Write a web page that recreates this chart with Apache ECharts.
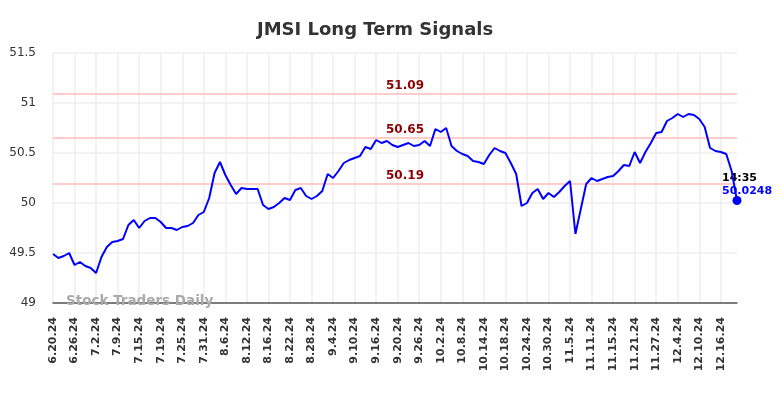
<!DOCTYPE html>
<html>
<head>
<meta charset="utf-8">
<script src="https://cdn.jsdelivr.net/npm/echarts@6/dist/echarts.min.js"></script>
<style>
html, body { margin: 0; padding: 0; background: #fff; }
#chart0 { width: 784px; height: 398px; }
</style>
</head>
<body>
<div id="chart0"></div>
<script>
'use strict';

// trading days shown on the x axis
var dates = [
	'6.20.24', '6.21.24', '6.24.24', '6.25.24', '6.26.24', '6.27.24', '6.28.24', '7.1.24',
	'7.2.24', '7.3.24', '7.5.24', '7.8.24', '7.9.24', '7.10.24', '7.11.24', '7.12.24',
	'7.15.24', '7.16.24', '7.17.24', '7.18.24', '7.19.24', '7.22.24', '7.23.24', '7.24.24',
	'7.25.24', '7.26.24', '7.29.24', '7.30.24', '7.31.24', '8.1.24', '8.2.24', '8.5.24',
	'8.6.24', '8.7.24', '8.8.24', '8.9.24', '8.12.24', '8.13.24', '8.14.24', '8.15.24',
	'8.16.24', '8.19.24', '8.20.24', '8.21.24', '8.22.24', '8.23.24', '8.26.24', '8.27.24',
	'8.28.24', '8.29.24', '8.30.24', '9.3.24', '9.4.24', '9.5.24', '9.6.24', '9.9.24',
	'9.10.24', '9.11.24', '9.12.24', '9.13.24', '9.16.24', '9.17.24', '9.18.24', '9.19.24',
	'9.20.24', '9.23.24', '9.24.24', '9.25.24', '9.26.24', '9.27.24', '9.30.24', '10.1.24',
	'10.2.24', '10.3.24', '10.4.24', '10.7.24', '10.8.24', '10.9.24', '10.10.24', '10.11.24',
	'10.14.24', '10.15.24', '10.16.24', '10.17.24', '10.18.24', '10.21.24', '10.22.24', '10.23.24',
	'10.24.24', '10.25.24', '10.28.24', '10.29.24', '10.30.24', '10.31.24', '11.1.24', '11.4.24',
	'11.5.24', '11.6.24', '11.7.24', '11.8.24', '11.11.24', '11.12.24', '11.13.24', '11.14.24',
	'11.15.24', '11.18.24', '11.19.24', '11.20.24', '11.21.24', '11.22.24', '11.25.24', '11.26.24',
	'11.27.24', '11.29.24', '12.2.24', '12.3.24', '12.4.24', '12.5.24', '12.6.24', '12.9.24',
	'12.10.24', '12.11.24', '12.12.24', '12.13.24', '12.16.24', '12.17.24', '12.18.24', '12.19.24'
];

var prices = [
	49.49, 49.45, 49.47, 49.50, 49.38, 49.41, 49.37, 49.35,
	49.30, 49.46, 49.56, 49.61, 49.62, 49.64, 49.78, 49.83,
	49.75, 49.82, 49.85, 49.85, 49.81, 49.75, 49.75, 49.73,
	49.76, 49.77, 49.80, 49.88, 49.91, 50.05, 50.30, 50.41,
	50.28, 50.18, 50.09, 50.15, 50.14, 50.14, 50.14, 49.98,
	49.94, 49.96, 50.00, 50.05, 50.03, 50.13, 50.15, 50.07,
	50.04, 50.07, 50.12, 50.29, 50.25, 50.32, 50.40, 50.43,
	50.45, 50.47, 50.56, 50.54, 50.63, 50.60, 50.62, 50.58,
	50.56, 50.58, 50.60, 50.57, 50.58, 50.62, 50.57, 50.74,
	50.71, 50.75, 50.57, 50.52, 50.49, 50.47, 50.42, 50.41,
	50.39, 50.48, 50.55, 50.52, 50.50, 50.40, 50.29, 49.97,
	50.00, 50.10, 50.14, 50.04, 50.10, 50.06, 50.11, 50.17,
	50.22, 49.69, 49.94, 50.19, 50.25, 50.22, 50.24, 50.26,
	50.27, 50.32, 50.38, 50.37, 50.51, 50.40, 50.51, 50.60,
	50.70, 50.71, 50.82, 50.85, 50.89, 50.86, 50.89, 50.88,
	50.84, 50.76, 50.55, 50.52, 50.51, 50.49, 50.32, 50.0248
];

var signal_levels = [51.09, 50.65, 50.19];
var y_ticks = [49, 49.5, 50, 50.5, 51, 51.5];
var last_time = '14:35';

var chart0 = echarts.init(document.getElementById('chart0'));

var last_i = prices.length - 1;

chart0.setOption({
	animation : false,
	textStyle : { fontFamily : 'DejaVu Sans' },
	title : {
		text : 'JMSI Long Term Signals',
		left : 252,
		top : 16,
		textStyle : { fontSize : 18, fontWeight : 'bold', color : '#333' }
	},
	graphic : [ {
		type : 'text',
		left : 66,
		top : 294,
		style : {
			text : 'Stock Traders Daily',
			fill : '#aaa',
			font : 'bold 13.5px "DejaVu Sans"'
		},
		z : 10
	} ],
	grid : {
		left : 53,
		right : 47,
		top : 53,
		bottom : 95
	},
	xAxis : {
		type : 'category',
		boundaryGap : false,
		data : dates,
		axisLine : { lineStyle : { color : '#555', width : 1.5 } },
		axisTick : { show : false },
		axisLabel : {
			interval : 3,
			rotate : 90,
			margin : 14,
			fontSize : 11,
			fontWeight : 'bold',
			color : '#333'
		},
		splitLine : {
			show : true,
			interval : 3,
			lineStyle : { color : '#eee', width : 1.5 }
		}
	},
	yAxis : {
		type : 'value',
		min : y_ticks[0],
		max : y_ticks[y_ticks.length - 1],
		interval : 0.5,
		axisLine : { show : false },
		axisTick : { show : false },
		axisLabel : {
			margin : 17,
			fontSize : 12,
			color : '#333'
		},
		splitLine : { lineStyle : { color : '#eee', width : 1.5 } }
	},
	series : [ {
		name : 'JMSI',
		type : 'line',
		data : prices,
		symbol : 'none',
		lineStyle : { color : '#0000ff', width : 2 },
		itemStyle : { color : '#0000ff' },
		z : 5,
		markPoint : {
			silent : true,
			symbol : 'circle',
			symbolSize : 9,
			itemStyle : { color : '#0000ff' },
			label : {
				show : true,
				position : 'top',
				align : 'left',
				distance : 2,
				offset : [ -15, 4 ],
				formatter : function(p) {
					return '{t|' + last_time + '}\n{v|' + p.value + '}';
				},
				rich : {
					t : { color : '#000', fontWeight : 'bold', fontSize : 11, lineHeight : 13 },
					v : { color : '#0000ff', fontWeight : 'bold', fontSize : 11, lineHeight : 13 }
				}
			},
			data : [ {
				coord : [ dates[last_i], prices[last_i] ],
				value : prices[last_i]
			} ]
		},
		markLine : {
			silent : true,
			symbol : 'none',
			lineStyle : { color : '#ffcccc', width : 2, type : 'solid' },
			label : {
				show : true,
				position : 'insideMiddleTop',
				offset : [ 10, 0 ],
				distance : 2,
				color : '#8b0000',
				fontWeight : 'bold',
				fontSize : 12
			},
			data : signal_levels.map(function(v) {
				return { yAxis : v, label : { formatter : String(v) } };
			})
		}
	} ]
});
</script>
</body>
</html>
